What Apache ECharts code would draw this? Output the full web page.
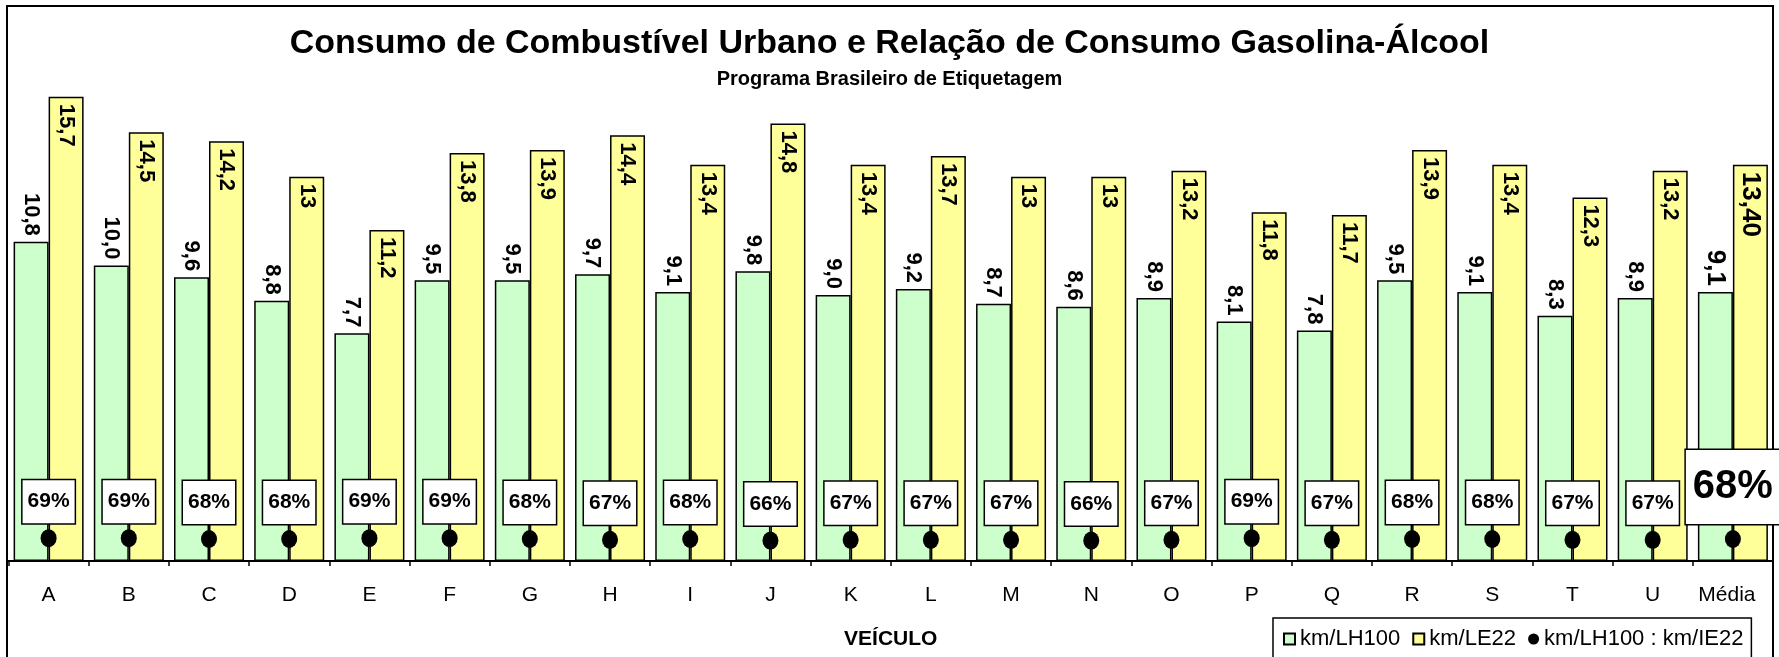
<!DOCTYPE html>
<html>
<head>
<meta charset="utf-8">
<script src="https://cdn.jsdelivr.net/npm/echarts@6/dist/echarts.min.js"></script>
<style>
html,body{margin:0;padding:0;background:#fff;}
#chart{width:1779px;height:657px;}
</style>
</head>
<body>
<div id="chart"></div>
<script>
const categories = ['A','B','C','D','E','F','G','H','I','J','K','L','M','N','O','P','Q','R','S','T','U','Média'];
const kmLH100 = [10.8,10.0,9.6,8.8,7.7,9.5,9.5,9.7,9.1,9.8,9.0,9.2,8.7,8.6,8.9,8.1,7.8,9.5,9.1,8.3,8.9,9.1];
const kmLE22 = [15.7,14.5,14.2,13,11.2,13.8,13.9,14.4,13.4,14.8,13.4,13.7,13,13,13.2,11.8,11.7,13.9,13.4,12.3,13.2,13.40];
const kmLE22Labels = ['15,7','14,5','14,2','13','11,2','13,8','13,9','14,4','13,4','14,8','13,4','13,7','13','13','13,2','11,8','11,7','13,9','13,4','12,3','13,2','13,40'];
const ratioPct = [69,69,68,68,69,69,68,67,68,66,67,67,67,66,67,69,67,68,68,67,67,68];

const FONT = 'Liberation Sans, Arial, sans-serif';
const last = categories.length - 1;

const chart = echarts.init(document.getElementById('chart'), null, {renderer:'canvas'});

const greenData = kmLH100.map((v,i)=> i===last ? {value:v, label:{fontSize:26}} : v);
const yellowData = kmLE22.map((v,i)=> i===last ? {value:v, label:{fontSize:26}} : v);
const ratioData = ratioPct.map((v,i)=> i===last ? {
  value:v,
  label:{fontSize:40, padding:[17,7,17,7], distance:6}
} : v);

chart.setOption({
  animation:false,
  backgroundColor:'#fff',
  textStyle:{fontFamily:FONT},
  title:[
    {text:'Consumo de Combustível Urbano e Relação de Consumo Gasolina-Álcool', left:'center', top:27, padding:0,
     textStyle:{fontFamily:FONT, fontSize:34, fontWeight:'bold', color:'#000'}},
    {text:'Programa Brasileiro de Etiquetagem', left:'center', top:69, padding:0,
     textStyle:{fontFamily:FONT, fontSize:20, fontWeight:'bold', color:'#000'}}
  ],
  legend:{
    data:[
      {name:'km/LH100', icon:'rect'},
      {name:'km/LE22', icon:'rect'},
      {name:'km/LH100 : km/IE22', icon:'circle'}
    ],
    left:1273, top:618,
    padding:[10,8,20,10],
    itemWidth:11, itemHeight:11, itemGap:12,
    backgroundColor:'#fff', borderColor:'#000', borderWidth:1.5,
    textStyle:{fontFamily:FONT, fontSize:22, color:'#000'}
  },
  grid:{left:8.5, right:6, top:88, bottom:96, containLabel:false, outerBoundsMode:'none'},
  xAxis:{
    type:'category', data:categories,
    axisLine:{lineStyle:{color:'#000', width:2}},
    axisTick:{show:true, length:5, lineStyle:{color:'#000', width:1.5}},
    axisLabel:{color:'#000', fontSize:21, margin:24, fontFamily:FONT, interval:0,
      formatter:(v)=> v==='Média' ? '{m|'+v+'}' : v,
      rich:{m:{fontFamily:FONT, fontSize:21, color:'#000', padding:[0,12,0,0]}}},
    name:'VEÍCULO', nameLocation:'middle', nameGap:68,
    nameTextStyle:{fontFamily:FONT, fontSize:21, fontWeight:'bold', color:'#000'}
  },
  yAxis:[
    {type:'value', min:0, max:16, show:false, splitLine:{show:false}},
    {type:'value', min:40.5, max:631.75, show:false, splitLine:{show:false}}
  ],
  series:[
    {
      name:'km/LH100', type:'bar', data:greenData, barWidth:35, barGap:'0%',
      itemStyle:{color:'#CCFFCC', borderColor:'#000', borderWidth:1.5},
      label:{show:true, position:'top', rotate:-90, distance:6, align:'right', verticalAlign:'middle',
        fontFamily:FONT, fontSize:22, fontWeight:'bold', color:'#000',
        formatter:p=>p.value.toFixed(1).replace('.',',')}
    },
    {
      name:'km/LE22', type:'bar', data:yellowData, barWidth:35, barGap:'0%',
      itemStyle:{color:'#FFFF99', borderColor:'#000', borderWidth:1.5},
      label:{show:true, position:'insideTop', rotate:-90, distance:7, align:'left', verticalAlign:'middle',
        fontFamily:FONT, fontSize:22, fontWeight:'bold', color:'#000',
        formatter:p=>kmLE22Labels[p.dataIndex]}
    },
    {
      name:'km/LH100 : km/IE22', type:'scatter', yAxisIndex:1, data:ratioData,
      symbol:'circle', symbolSize:[16,18], z:5,
      itemStyle:{color:'#000', opacity:1},
      label:{show:true, position:'top', distance:6, opacity:1,
        backgroundColor:'#fff', borderColor:'#000', borderWidth:1.5, padding:[11,5,11,5],
        fontFamily:FONT, fontSize:21, fontWeight:'bold', color:'#000',
        formatter:p=>p.value+'%'},
      emphasis:{disabled:true}
    }
  ],
  graphic:[
    {type:'rect', shape:{x:7, y:6, width:1766, height:700}, style:{fill:'none', stroke:'#000', lineWidth:2}, silent:true, z:-1}
  ]
});
</script>
</body>
</html>
